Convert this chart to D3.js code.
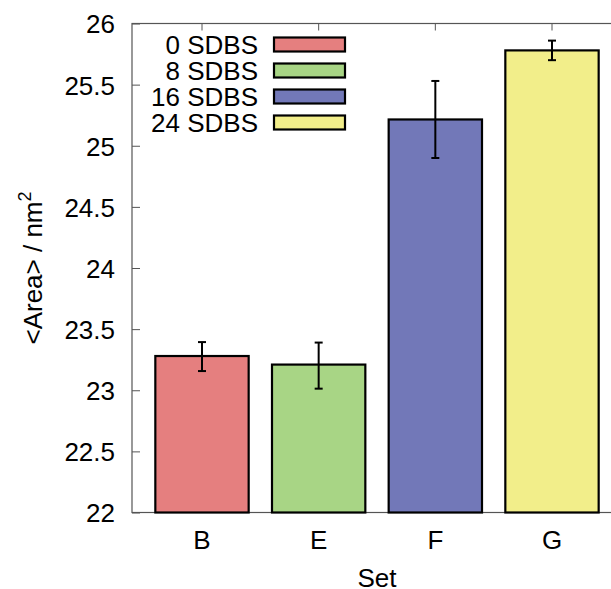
<!DOCTYPE html>
<html><head><meta charset="utf-8">
<script src="https://cdn.jsdelivr.net/npm/d3@7"></script>
<style>body{margin:0;background:#fff;}svg{display:block;font-family:"Liberation Sans",Arial,sans-serif;}</style>
</head><body>
<svg id="c" width="611" height="589"></svg>
<script>
const categories = ["B", "E", "F", "G"];
const seriesNames = ["0 SDBS", "8 SDBS", "16 SDBS", "24 SDBS"];
const values = [23.28, 23.21, 25.215, 25.78];
const errLow = [23.157, 23.013, 24.90, 25.70];
const errHigh = [23.394, 23.39, 25.53, 25.86];
const colors = ["#e57f7f", "#a8d585", "#7278b8", "#f2ee8a"];
const yTicks = [22, 22.5, 23, 23.5, 24, 24.5, 25, 25.5, 26];

const svg = d3.select("#c");
const L = 132, R = 622, T = 23.5, B = 512.5;
const x = d3.scaleLinear().domain([-0.6, 3.6]).range([L, R]);
const y = d3.scaleLinear().domain([22, 26]).range([B, T]);
const bw = 0.8;
const axisCol = "#555";
const FS = 26;

// y ticks + labels
const yAxis = d3.axisLeft(y).tickValues(yTicks).tickSize(-8).tickPadding(17).tickFormat(d => d3.format("")(d));
const ga = svg.append("g").attr("transform", `translate(${L},0)`).call(yAxis);
ga.attr("font-family", null).attr("font-size", null);
ga.select(".domain").remove();
ga.selectAll("line").attr("stroke", axisCol).attr("stroke-width", 1);
ga.selectAll("text").attr("font-size", FS).attr("fill", "#000").attr("dy", "0.36em");

// top ticks
svg.append("g").selectAll("line").data(categories).join("line")
  .attr("x1", (d, i) => x(i)).attr("x2", (d, i) => x(i))
  .attr("y1", T).attr("y2", T + 7).attr("stroke", axisCol).attr("stroke-width", 1);

// frame
svg.append("rect").attr("x", L).attr("y", T).attr("width", R - L).attr("height", B - T)
  .attr("fill", "none").attr("stroke", axisCol).attr("stroke-width", 1.2);

// bars
svg.append("g").selectAll("rect").data(values).join("rect")
  .attr("x", (d, i) => x(i - bw / 2)).attr("width", x(bw) - x(0))
  .attr("y", d => y(d)).attr("height", d => y(22) - y(d))
  .attr("fill", (d, i) => colors[i]).attr("stroke", "#000").attr("stroke-width", 2.2);

// error bars
const eb = svg.append("g").attr("stroke", "#000").attr("stroke-width", 2);
categories.forEach((c, i) => {
  const cx = x(i);
  eb.append("line").attr("x1", cx).attr("x2", cx).attr("y1", y(errLow[i])).attr("y2", y(errHigh[i]));
  eb.append("line").attr("x1", cx - 4).attr("x2", cx + 4).attr("y1", y(errLow[i])).attr("y2", y(errLow[i]));
  eb.append("line").attr("x1", cx - 4).attr("x2", cx + 4).attr("y1", y(errHigh[i])).attr("y2", y(errHigh[i]));
});

// x tick labels
svg.append("g").selectAll("text").data(categories).join("text")
  .attr("x", (d, i) => x(i)).attr("y", 548.5).attr("text-anchor", "middle")
  .attr("font-size", FS).text(d => d);

// axis titles
svg.append("text").attr("x", (L + R) / 2).attr("y", 586.5).attr("text-anchor", "middle")
  .attr("font-size", FS).text("Set");
const yt = svg.append("text").attr("transform", `translate(42,${(T + B) / 2}) rotate(-90)`)
  .attr("text-anchor", "middle").attr("font-size", FS);
yt.append("tspan").text("<Area> / nm");
yt.append("tspan").attr("dy", -11).attr("font-size", 18).text("2");

// legend
const lg = svg.append("g");
seriesNames.forEach((s, i) => {
  const cy = 44.5 + i * 26;
  lg.append("text").attr("x", 258).attr("y", cy + 9.5).attr("text-anchor", "end")
    .attr("font-size", FS).text(s);
  lg.append("rect").attr("x", 274).attr("y", cy - 7).attr("width", 71).attr("height", 14)
    .attr("fill", colors[i]).attr("stroke", "#000").attr("stroke-width", 2.2);
});
</script>
</body></html>
